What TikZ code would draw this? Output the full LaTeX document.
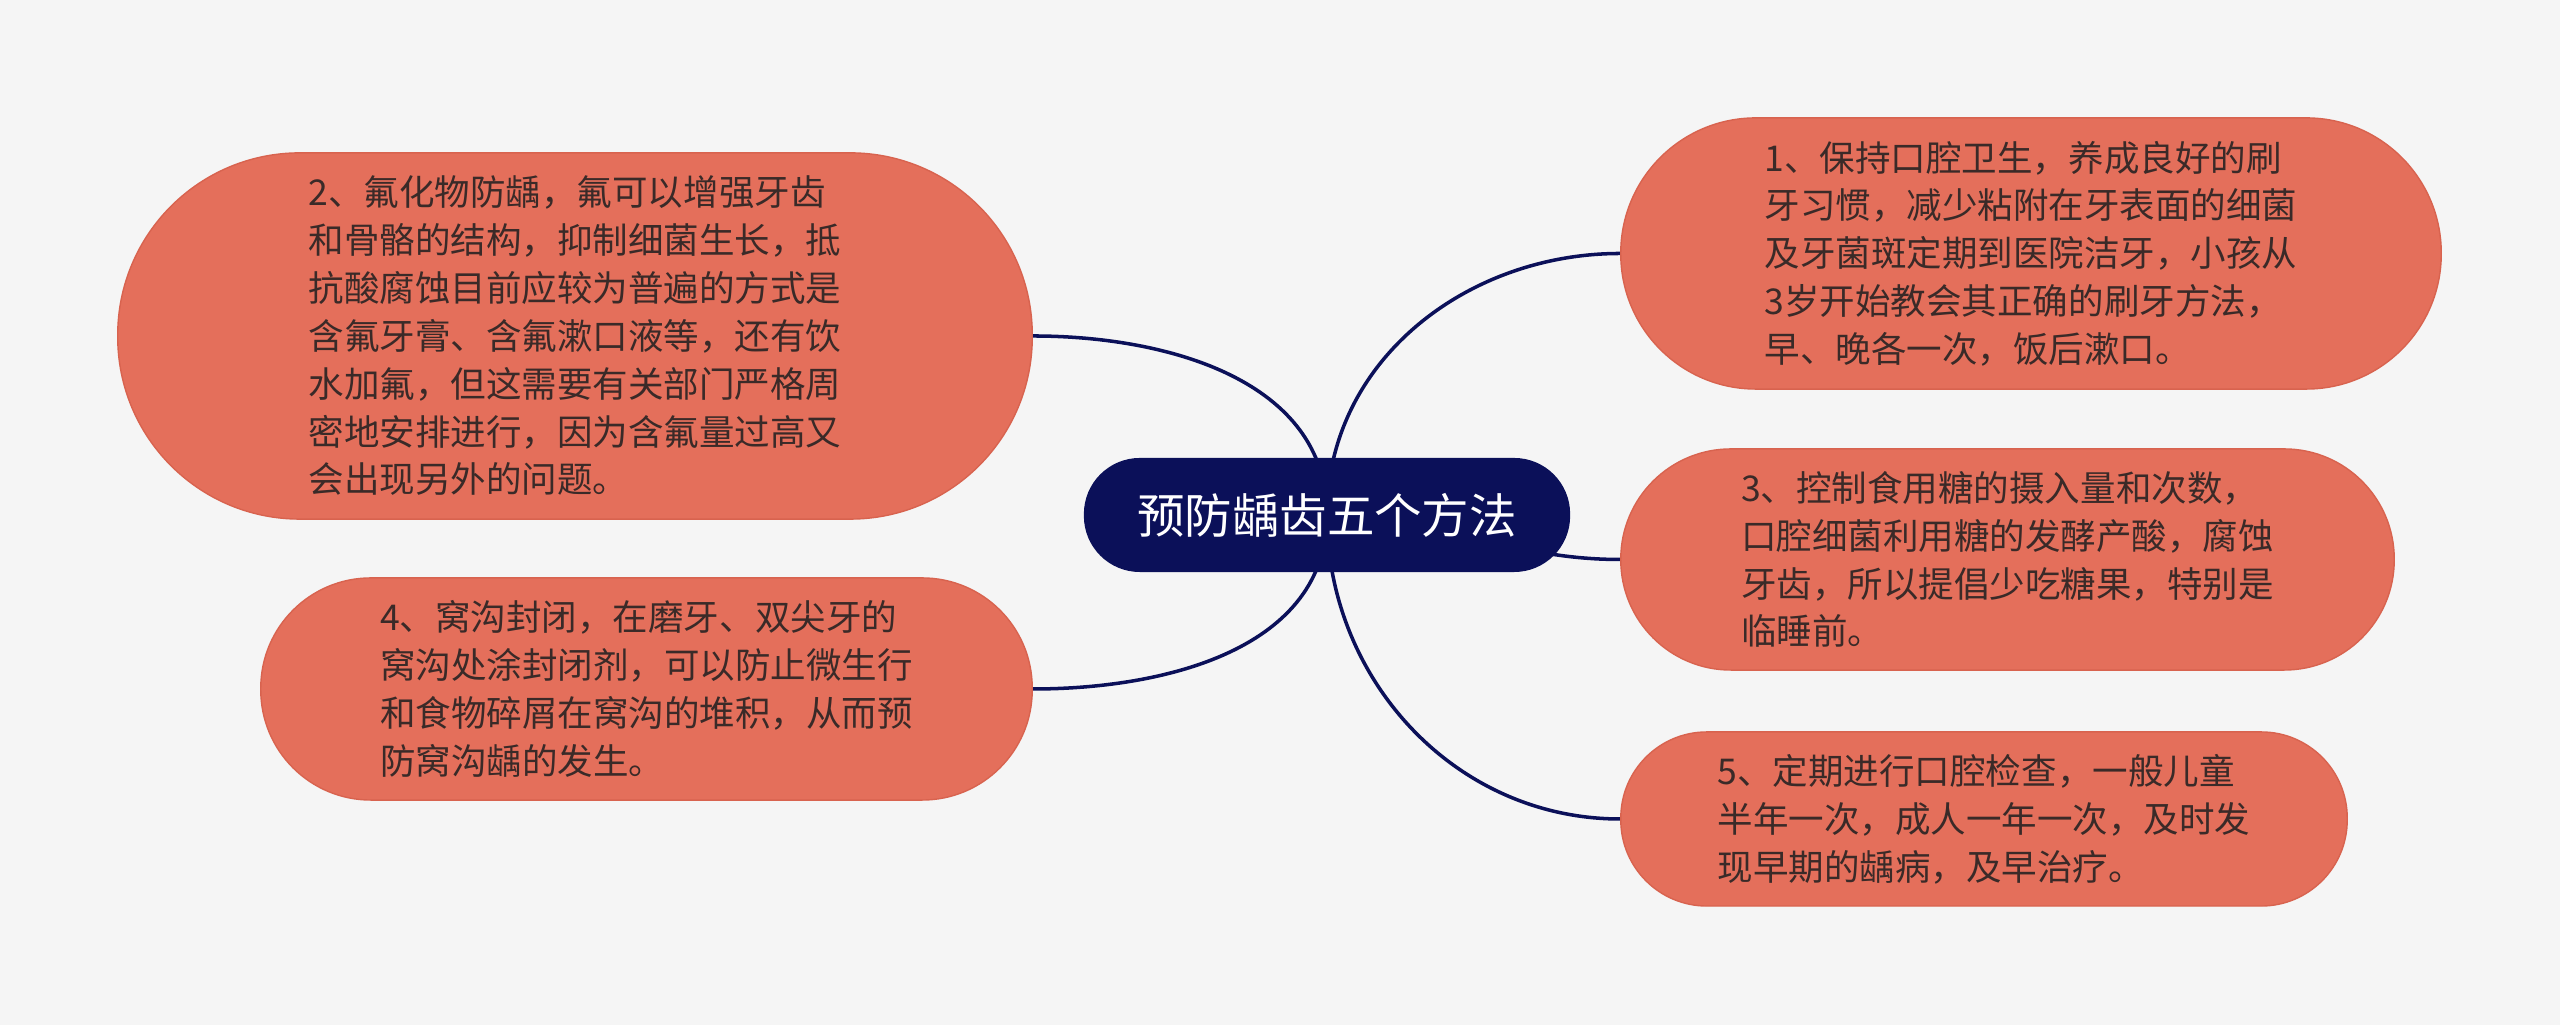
\documentclass[tikz,border=0pt]{standalone}
\usepackage{fontspec}
\setmainfont{Noto Sans CJK SC}
\usetikzlibrary{backgrounds}
\definecolor{paper}{HTML}{F5F5F5}
\definecolor{rootblue}{HTML}{0B1059}
\definecolor{leaffill}{HTML}{E46F5B}
\definecolor{leafedge}{HTML}{D8634F}
\definecolor{leaftext}{HTML}{3A2A28}
\begin{document}
\begin{tikzpicture}[x=0.01cm, y=0.01cm,
    root/.style={fill=rootblue, text=white, inner sep=0pt, font=\fontsize{13.5}{16}\selectfont,
      minimum width=4.86cm, minimum height=1.14cm, rounded corners=0.56cm},
    leaf/.style={fill=leaffill, draw=leafedge, line width=0.4pt, text=leaftext, inner sep=0pt,
      align=left, font=\fontsize{10.1}{13.6}\selectfont},
    branch/.style={draw=rootblue, line width=1pt}]
  \useasboundingbox (0,0) rectangle (2560,1025);
  % centre topic
  \node[root] (root) at (1327,510) {预防龋齿五个方法};
  % right side
  \node[leaf, minimum width=8.2cm, minimum height=2.71cm, rounded corners=1.35cm] (m1) at (2031,771.5)
    {1、保持口腔卫生，养成良好的刷\\牙习惯，减少粘附在牙表面的细菌\\及牙菌斑定期到医院洁牙，小孩从\\3岁开始教会其正确的刷牙方法，\\早、晚各一次，饭后漱口。};
  \node[leaf, minimum width=7.73cm, minimum height=2.21cm, rounded corners=1.1cm] (m3) at (2007.5,465.5)
    {3、控制食用糖的摄入量和次数，\\口腔细菌利用糖的发酵产酸，腐蚀\\牙齿，所以提倡少吃糖果，特别是\\临睡前。};
  \node[leaf, minimum width=7.26cm, minimum height=1.74cm, rounded corners=0.86cm] (m5) at (1984,206)
    {5、定期进行口腔检查，一般儿童\\半年一次，成人一年一次，及时发\\现早期的龋病，及早治疗。};
  % left side
  \node[leaf, minimum width=9.14cm, minimum height=3.66cm, rounded corners=1.82cm] (m2) at (575,689)
    {2、氟化物防龋，氟可以增强牙齿\\和骨骼的结构，抑制细菌生长，抵\\抗酸腐蚀目前应较为普遍的方式是\\含氟牙膏、含氟漱口液等，还有饮\\水加氟，但这需要有关部门严格周\\密地安排进行，因为含氟量过高又\\会出现另外的问题。};
  \node[leaf, minimum width=7.71cm, minimum height=2.22cm, rounded corners=1.1cm] (m4) at (646.5,336)
    {4、窝沟封闭，在磨牙、双尖牙的\\窝沟处涂封闭剂，可以防止微生行\\和食物碎屑在窝沟的堆积，从而预\\防窝沟龋的发生。};
  \begin{pgfonlayer}{background}
    \fill[paper] (0,0) rectangle (2560,1025);
    \draw[branch] (root.center) to[out=90,in=180] (m1.west);
    \draw[branch] (root.center) to[out=0,in=180] (m3.west);
    \draw[branch] (root.center) to[out=-90,in=180] (m5.west);
    \draw[branch] (root.center) to[out=90,in=0] (m2.east);
    \draw[branch] (root.center) to[out=-90,in=0] (m4.east);
  \end{pgfonlayer}
\end{tikzpicture}
\end{document}
